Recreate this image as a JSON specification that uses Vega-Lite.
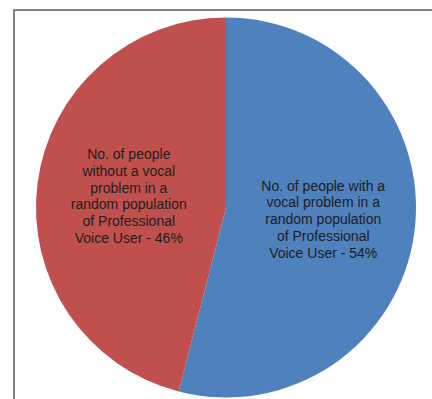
{
  "$schema": "https://vega.github.io/schema/vega-lite/v6.json",
  "width": 424,
  "height": 395,
  "autosize": {"type": "none"},
  "padding": {"left": 14, "top": 10, "right": 0, "bottom": 0},
  "background": "white",
  "view": {"stroke": null},
  "datasets": {
    "slices": [
      {"group": "With vocal problem", "order": 1, "percent": 54, "label": "No. of people with a\nvocal problem in a\nrandom population\nof Professional\nVoice User - 54%"},
      {"group": "Without vocal problem", "order": 2, "percent": 46, "label": "No. of people\nwithout a vocal\nproblem in a\nrandom population\nof Professional\nVoice User - 46%"}
    ],
    "frame": [{"frame": "border"}]
  },
  "layer": [
    {
      "data": {"name": "frame"},
      "mark": {"type": "rect", "fill": null, "stroke": "#5c5c5c", "strokeWidth": 1.5},
      "encoding": {}
    },
    {
      "data": {"name": "slices"},
      "encoding": {
        "theta": {"field": "percent", "type": "quantitative", "stack": true},
        "order": {"field": "order", "type": "ordinal"}
      },
      "layer": [
        {
          "mark": {"type": "arc", "outerRadius": 190},
          "encoding": {
            "color": {
              "field": "group",
              "type": "nominal",
              "scale": {"domain": ["With vocal problem", "Without vocal problem"], "range": ["#4f81bd", "#c0504d"]},
              "legend": null
            }
          }
        },
        {
          "mark": {"type": "text", "radius": 98, "dy": {"expr": "datum.order == 1 ? -33 : -40"}, "lineBreak": "\n", "font": "Liberation Sans", "fontSize": 14, "lineHeight": 16.7, "color": "#1e1e1e", "align": "center", "baseline": "middle"},
          "encoding": {
            "text": {"field": "label"}
          }
        }
      ]
    }
  ]
}
